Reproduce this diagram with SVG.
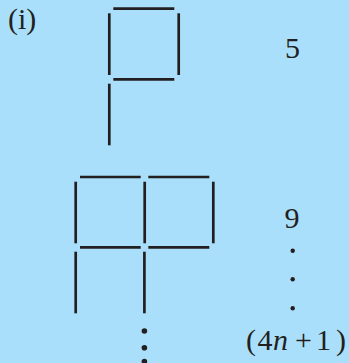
<svg xmlns="http://www.w3.org/2000/svg" width="349" height="363" viewBox="0 0 349 363">
<style>
.m{stroke:#231f20;stroke-width:2.7;fill:none}
.t{font-family:"Liberation Serif",serif;font-size:30px;fill:#231f20}
.d{fill:#231f20}
</style>
<rect width="349" height="363" fill="#a9dffa"/>
<text class="t" x="8" y="28.5">(i)</text>
<g id="figure1">
<line class="m" x1="113.3" y1="8.7" x2="174.3" y2="8.7"/>
<line class="m" x1="109.3" y1="13.3" x2="109.3" y2="75"/>
<line class="m" x1="178.7" y1="13.3" x2="178.7" y2="75"/>
<line class="m" x1="113.3" y1="79.3" x2="174.3" y2="79.3"/>
<line class="m" x1="109.3" y1="83.7" x2="109.3" y2="145.3"/>
</g>
<g id="figure2">
<line class="m" x1="80" y1="177" x2="140.7" y2="177"/>
<line class="m" x1="148.3" y1="177" x2="209.3" y2="177"/>
<line class="m" x1="75.7" y1="181.7" x2="75.7" y2="243.3"/>
<line class="m" x1="144.7" y1="181.7" x2="144.7" y2="243.3"/>
<line class="m" x1="213.3" y1="181.7" x2="213.3" y2="243.3"/>
<line class="m" x1="80" y1="247.3" x2="140.7" y2="247.3"/>
<line class="m" x1="148.3" y1="247.3" x2="209.3" y2="247.3"/>
<line class="m" x1="75.7" y1="251.7" x2="75.7" y2="313.3"/>
<line class="m" x1="144.4" y1="251.7" x2="144.4" y2="313.3"/>
<circle class="d" cx="144.4" cy="331" r="2.8"/>
<circle class="d" cx="144.4" cy="347.7" r="2.8"/>
<circle class="d" cx="144.4" cy="361.5" r="2.8"/>
</g>
<g id="counts">
<text class="t" x="292.5" y="57.5" text-anchor="middle">5</text>
<text class="t" x="292" y="227.5" text-anchor="middle">9</text>
<circle class="d" cx="292.7" cy="250.7" r="2.2"/>
<circle class="d" cx="292.7" cy="279.3" r="2.2"/>
<circle class="d" cx="292.7" cy="308.3" r="2.2"/>
<text class="t" y="349.5"><tspan x="246">(</tspan><tspan x="257.5">4</tspan><tspan x="273" font-style="italic">n</tspan><tspan x="295">+</tspan><tspan x="316">1</tspan><tspan x="336">)</tspan></text>
</g>
</svg>
